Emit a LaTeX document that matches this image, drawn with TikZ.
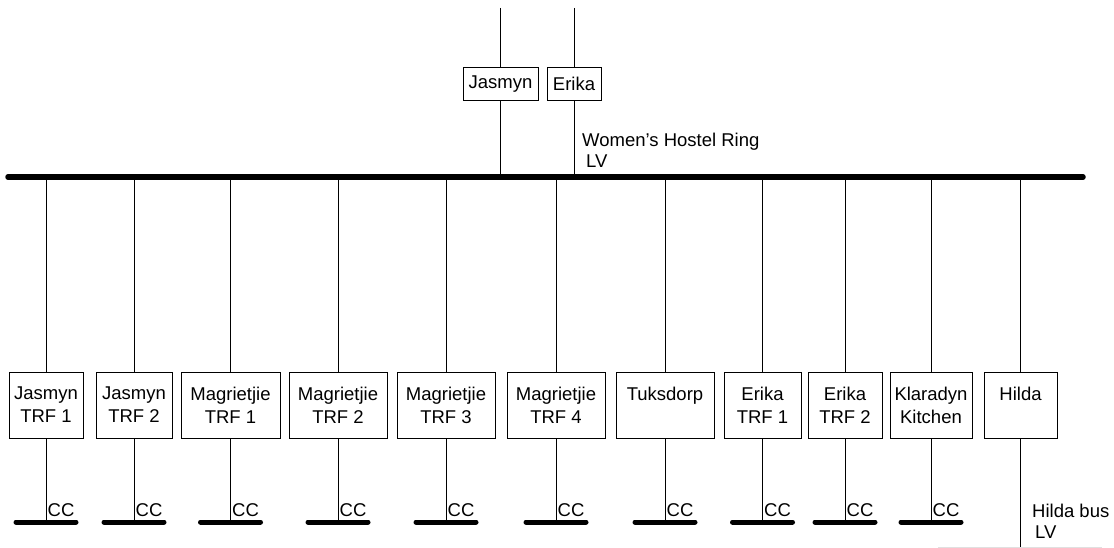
\documentclass[tikz,border=0pt]{standalone}
\usepackage{fontspec}
\setmainfont{Liberation Sans}
\begin{document}
\begin{tikzpicture}[x=1pt,y=-1pt,
  every node/.style={font=\fontsize{18.5}{23}\selectfont},
  box/.style={draw, line width=0.8pt, minimum height=66pt, align=center, inner sep=0pt},
  topbox/.style={draw, line width=0.8pt, minimum height=33pt, inner sep=0pt},
  wire/.style={line width=0.8pt},
  mainbus/.style={line width=5.5pt, line cap=round},
  ccbus/.style={line width=5pt, line cap=round},
  lbl/.style={anchor=base west, inner sep=0pt}]
\useasboundingbox (0,0) rectangle (1114,548);
% main bus
\coordinate (busL) at (8,177);
\coordinate (busR) at (1083,177);
\draw[mainbus] (busL) -- (busR);
% incoming feeders
\node[topbox, minimum width=75pt] (jas) at (500.5,84) {Jasmyn};
\node[topbox, minimum width=54pt] (eri) at (574,84) {Erika};
\coordinate (jasTop) at (500.5,8);
\coordinate (eriTop) at (574,8);
\draw[wire] (jasTop) -- (jas.north);
\draw[wire] (jas.south) -- (jas.south |- busL);
\draw[wire] (eriTop) -- (eri.north);
\draw[wire] (eri.south) -- (eri.south |- busL);
\node[lbl] (ringlbl) at (582,147) {Women’s Hostel Ring};
\node[lbl] (ringlv) at (586,168) {LV};
% transformers
\foreach \n/\x/\w/\t in {
  jt1/46/74/{Jasmyn\\TRF 1},
  jt2/134/76/{Jasmyn\\TRF 2},
  mt1/230.5/99/{Magrietjie\\TRF 1},
  mt2/338/98/{Magrietjie\\TRF 2},
  mt3/446/98/{Magrietjie\\TRF 3},
  mt4/556/98/{Magrietjie\\TRF 4},
  tuk/665/98/{Tuksdorp\\\mbox{}},
  et1/762.5/77/{Erika\\TRF 1},
  et2/845/74/{Erika\\TRF 2},
  kla/931/82/{Klaradyn\\Kitchen}}{
  \node[box, minimum width=\w pt] (\n) at (\x,405) {\t};
  \draw[wire] (\n.north |- busL) -- (\n.north);
  \coordinate (\n cc) at (\x,522);
  \draw[ccbus] ([xshift=-30pt]\n cc) -- ([xshift=30pt]\n cc);
  \draw[wire] (\n.south) -- (\n cc);
  \node[lbl] at ([xshift=1.5pt,yshift=6pt]\n cc) {CC};
}
% Hilda
\node[box, minimum width=73pt] (hil) at (1020.5,405) {Hilda\\\mbox{}};
\draw[wire] (hil.north |- busL) -- (hil.north);
\coordinate (hilB) at (1020.5,547);
\draw[wire] (hil.south) -- (hilB);
\coordinate (hbL) at (938,547);
\coordinate (hbR) at (1102,547);
\draw[line width=0.8pt, black!12] (hbL) -- (hbR);
\node[lbl] (hlbl) at (1032,517) {Hilda bus};
\node[lbl] (hlv) at (1035,538) {LV};
\end{tikzpicture}
\end{document}
